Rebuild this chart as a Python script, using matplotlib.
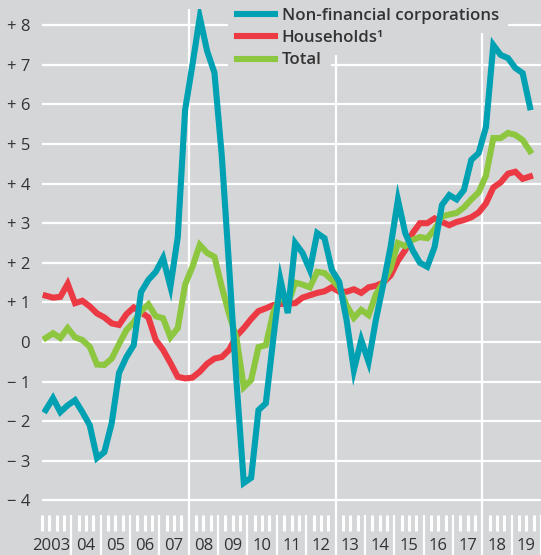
import numpy as np
import matplotlib
matplotlib.use("Agg")
import matplotlib.pyplot as plt
from matplotlib.ticker import FixedLocator, FuncFormatter
import matplotlib.transforms as mtransforms
import pandas as pd

# ---- data (year-on-year change, quarterly, 2003Q1 .. 2019Q3) ----
first_quarter = "2003Q1"
last_quarter = "2019Q3"

nfc = [-1.72, -1.42, -1.77, -1.60, -1.47, -1.77, -2.10, -2.93, -2.78, -2.05,
       -0.78, -0.38, -0.08, 1.26, 1.57, 1.77, 2.12, 1.40, 2.65, 5.86,
       7.00, 8.20, 7.35, 6.80, 4.70, 1.90, -1.00, -3.56, -3.43, -1.72,
       -1.55, 0.05, 1.57, 0.73, 2.50, 2.25, 1.82, 2.75, 2.62, 1.82,
       1.52, 0.56, -0.71, 0.05, -0.50, 0.56, 1.45, 2.40, 3.59, 2.75,
       2.32, 2.00, 1.90, 2.40, 3.46, 3.71, 3.60, 3.84, 4.60, 4.77,
       5.43, 7.50, 7.25, 7.17, 6.92, 6.79, 5.93]

households = [1.17, 1.12, 1.14, 1.47, 0.98, 1.04, 0.90, 0.72, 0.62, 0.47,
              0.43, 0.70, 0.87, 0.75, 0.62, 0.05, -0.20, -0.53, -0.88, -0.92,
              -0.90, -0.75, -0.55, -0.42, -0.38, -0.20, 0.15, 0.35, 0.58, 0.78,
              0.85, 0.93, 0.96, 0.97, 0.98, 1.12, 1.18, 1.24, 1.28, 1.38,
              1.27, 1.27, 1.33, 1.24, 1.38, 1.42, 1.50, 1.68, 2.05, 2.32,
              2.75, 3.00, 3.00, 3.12, 3.03, 2.95, 3.03, 3.08, 3.15, 3.27,
              3.50, 3.90, 4.03, 4.25, 4.30, 4.12, 4.18]

total = [0.10, 0.22, 0.10, 0.35, 0.12, 0.05, -0.12, -0.57, -0.58, -0.42,
         -0.05, 0.30, 0.50, 0.78, 0.95, 0.65, 0.60, 0.12, 0.35, 1.45,
         1.90, 2.45, 2.25, 2.15, 1.39, 0.70, 0.10, -1.14, -0.96, -0.13,
         -0.08, 0.73, 1.15, 0.95, 1.50, 1.45, 1.38, 1.77, 1.74, 1.57,
         1.38, 0.93, 0.61, 0.81, 0.68, 1.20, 1.50, 1.85, 2.50, 2.42,
         2.58, 2.65, 2.62, 2.85, 3.17, 3.22, 3.26, 3.40, 3.60, 3.78,
         4.20, 5.15, 5.15, 5.28, 5.23, 5.10, 4.82]

series_labels = ["Non-financial corporations", "Households\u00b9", "Total"]
year_labels = ["2003", "04", "05", "06", "07", "08", "09", "10", "11", "12",
               "13", "14", "15", "16", "17", "18", "19"]
first_year = 2003
y_ticks = list(range(-4, 9))
highlight_years = [2008, 2013, 2018]

# ---- style ----
BG = "#d5d6d8"
C_NFC = "#00a1b2"
C_HH = "#ec3a44"
C_TOT = "#8dc63f"
TXT = "#333333"
plt.rcParams["font.family"] = ["Open Sans", "DejaVu Sans"]

q = pd.period_range(first_quarter, last_quarter, freq="Q")
t = q.year + (q.quarter - 1) * 0.25 + 0.125

fig = plt.figure(figsize=(5.41, 5.55), dpi=100, facecolor=BG)
ax = fig.add_axes([42 / 541, 40 / 555, 499 / 541, 506 / 555])
ax.set_facecolor(BG)
for s in ax.spines.values():
    s.set_visible(False)

last_year = first_year + len(year_labels)
ax.set_xlim(first_year, last_year)
ax.set_ylim(-4.37, 8.41)

# horizontal grid
ax.yaxis.set_major_locator(FixedLocator(y_ticks))
ax.yaxis.set_major_formatter(FuncFormatter(
    lambda v, p: "0" if v == 0 else ("+ %d" % v if v > 0 else "\u2212 %d" % abs(v))))
ax.grid(axis="y", color="white", linewidth=1.6, zorder=1)
ax.set_axisbelow(True)
ax.tick_params(axis="y", length=0, pad=8.5, labelsize=12, labelcolor=TXT)

# vertical lines at selected years
for yr in highlight_years:
    ax.axvline(yr, color="white", linewidth=1.6, zorder=1)

# x ticks: long at year starts, short quarterly
ax.xaxis.set_major_locator(FixedLocator(list(range(first_year + 1, last_year + 1))))
ax.xaxis.set_minor_locator(FixedLocator(list(np.arange(first_year, last_year, 0.25))))
ax.tick_params(axis="x", which="major", direction="out", length=29, width=1.6,
               color="white", labelbottom=False)
ax.tick_params(axis="x", which="minor", direction="out", length=11.5, width=2.2,
               color="white")
trans = mtransforms.blended_transform_factory(ax.transData, ax.transAxes)
for i, lab in enumerate(year_labels):
    if i == 0:
        xpos, ha = first_year + 0.95, "right"
    else:
        xpos, ha = first_year + i + 0.5, "center"
    ax.text(xpos, -0.078, lab, transform=trans, ha=ha, va="bottom",
            fontsize=12, color=TXT, clip_on=False, zorder=20)

lw = 4.4
l_hh, = ax.plot(t, households, color=C_HH, lw=lw, zorder=3, solid_joinstyle="miter")
l_tot, = ax.plot(t, total, color=C_TOT, lw=lw, zorder=4, solid_joinstyle="miter")
l_nfc, = ax.plot(t, nfc, color=C_NFC, lw=lw, zorder=5, solid_joinstyle="miter")

# legend: one masked box per row
rows = [(l_nfc, series_labels[0], 15.5), (l_hh, series_labels[1], 38.0),
        (l_tot, series_labels[2], 60.5)]
for line, lab, ypix in rows:
    leg = ax.legend([line], [lab], loc="center left",
                    bbox_to_anchor=((228 - 42) / 499, (515 - ypix) / 506),
                    frameon=True, facecolor=BG, edgecolor="none", framealpha=1,
                    fancybox=False, borderpad=0.55, handlelength=2.25,
                    handletextpad=0.4, borderaxespad=0,
                    prop={"size": 12.1, "weight": "semibold"})
    for txt in leg.get_texts():
        txt.set_color(TXT)
    leg.set_zorder(10)
    ax.add_artist(leg)

fig.savefig("out.png", dpi=100, facecolor=BG)
